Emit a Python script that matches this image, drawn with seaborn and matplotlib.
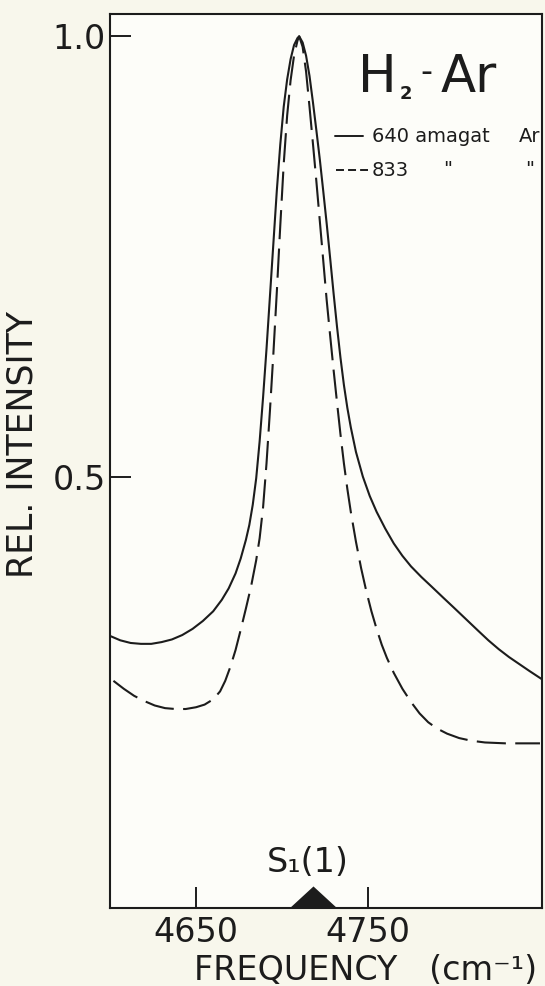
import matplotlib
matplotlib.use("Agg")
import matplotlib.pyplot as plt
import seaborn as sns
from matplotlib.lines import Line2D

# 640 amagat Ar (solid)
freq_640 = [4600, 4606, 4612, 4618, 4624, 4630, 4636, 4642, 4648, 4654,
            4660, 4665, 4669, 4673, 4676, 4679, 4681, 4683, 4685, 4687,
            4689, 4691, 4693, 4695, 4697, 4699, 4701, 4703, 4705, 4707,
            4709, 4710, 4712, 4714, 4716, 4718, 4720, 4722, 4724, 4726,
            4728, 4730, 4732, 4734, 4736, 4738, 4740, 4743, 4747, 4751,
            4755, 4760, 4765, 4770, 4775, 4781, 4787, 4794, 4800, 4807,
            4814, 4820, 4826, 4832, 4838, 4844, 4851]
int_640 = [0.319, 0.314, 0.311, 0.310, 0.310, 0.312, 0.315, 0.320, 0.327, 0.336,
           0.347, 0.360, 0.373, 0.390, 0.407, 0.428, 0.445, 0.468, 0.498, 0.540,
           0.590, 0.645, 0.705, 0.765, 0.825, 0.877, 0.920, 0.951, 0.974, 0.990,
           0.998, 1.000, 0.993, 0.978, 0.955, 0.925, 0.893, 0.860, 0.824, 0.787,
           0.748, 0.708, 0.670, 0.635, 0.604, 0.578, 0.556, 0.528, 0.500, 0.478,
           0.460, 0.441, 0.424, 0.410, 0.398, 0.386, 0.375, 0.362, 0.351, 0.338,
           0.325, 0.314, 0.304, 0.295, 0.287, 0.279, 0.270]

# 833 amagat Ar (dashed)
freq_833 = [4602, 4608, 4614, 4620, 4626, 4632, 4638, 4644, 4650, 4655,
            4660, 4664, 4667, 4670, 4673, 4676, 4679, 4682, 4685, 4687,
            4689, 4691, 4693, 4695, 4697, 4699, 4701, 4703, 4705, 4707,
            4709, 4710, 4712, 4714, 4716, 4718, 4720, 4722, 4724, 4726,
            4728, 4730, 4732, 4734, 4736, 4738, 4740, 4743, 4746, 4749,
            4752, 4755, 4758, 4761, 4765, 4770, 4775, 4780, 4785, 4790,
            4796, 4803, 4810, 4818, 4830, 4850]
int_833 = [0.268, 0.259, 0.251, 0.245, 0.240, 0.237, 0.236, 0.236, 0.238, 0.241,
           0.247, 0.256, 0.268, 0.284, 0.303, 0.326, 0.350, 0.375, 0.405, 0.430,
           0.465, 0.515, 0.575, 0.640, 0.710, 0.785, 0.855, 0.910, 0.950, 0.978,
           0.995, 1.000, 0.988, 0.960, 0.920, 0.878, 0.835, 0.790, 0.745, 0.700,
           0.660, 0.621, 0.584, 0.548, 0.515, 0.486, 0.460, 0.426, 0.396, 0.370,
           0.347, 0.327, 0.309, 0.294, 0.277, 0.259, 0.244, 0.231, 0.221, 0.214,
           0.208, 0.203, 0.200, 0.198, 0.197, 0.197]

s1_freq = 4718
x_ticks = [4650, 4750]
y_ticks = [0.5, 1.0]
y_tick_labels = ["0.5", "1.0"]

W, H = 545, 986
ink = "#1c1c1c"

sns.set_style("ticks")
plt.rcParams["font.family"] = ["DejaVu Sans"]


def fx(px):
    return px / W


def fy(py):
    return 1 - py / H


fig = plt.figure(figsize=(W / 100, H / 100), dpi=100, facecolor="#f8f7ec")
ax = fig.add_axes([fx(110), fy(908), (541.7 - 110) / W, (908 - 14.3) / H])
ax.set_facecolor("#fdfdf9")

sns.lineplot(x=freq_640, y=int_640, ax=ax, color=ink, lw=1.5,
             estimator=None, sort=False)
sns.lineplot(x=freq_833, y=int_833, ax=ax, color=ink, lw=1.5,
             estimator=None, sort=False, linestyle=(0, (14, 4.5)))

# S1(1) position marker (flat triangle sitting on the axis)
tri = [(-1, 0), (1, 0), (0, 0.92), (-1, 0)]
ax.plot([s1_freq], [0.01], marker=tri, ms=34.5, mew=0, color=ink,
        clip_on=False, zorder=5)

ax.set_xlim(4600, 4851)
ax.set_ylim(0.01, 1.025)
ax.set_xticks(x_ticks)
ax.set_yticks(y_ticks, y_tick_labels)
ax.tick_params(direction="in", length=15, width=1.4, labelsize=24,
               colors=ink)
ax.tick_params(axis="x", pad=6)
ax.tick_params(axis="y", pad=3)
for s in ax.spines.values():
    s.set_linewidth(1.5)
    s.set_color(ink)

ax.set_ylabel("REL. INTENSITY", fontsize=25, color=ink, va="center")
ax.yaxis.set_label_coords((23 - 110) / 431.7, (908 - 445) / 893.7)
ax.set_xlabel("FREQUENCY   (cm\u207b\u00b9)", fontsize=24, color=ink, va="center")
ax.xaxis.set_label_coords((366 - 110) / 431.7, (908 - 970) / 893.7)

# title H2-Ar
fig.text(fx(358), fy(92.5), "H", fontsize=37, color=ink, va="baseline")
fig.text(fx(400), fy(99), "2", fontsize=13, fontweight="bold", color=ink, va="baseline")
fig.text(fx(420), fy(82), "-", fontsize=24, color=ink, va="baseline")
fig.text(fx(441), fy(92.5), "Ar", fontsize=37, color=ink, va="baseline")

# legend lettering
fig.add_artist(Line2D([fx(335), fx(363)], [fy(136), fy(136)], lw=1.4, color=ink,
                      transform=fig.transFigure))
fig.add_artist(Line2D([fx(336), fx(368)], [fy(170), fy(170)], lw=1.4, color=ink,
                      dashes=(4.1, 2.1), transform=fig.transFigure))
fig.text(fx(372), fy(136), "640 amagat", fontsize=14, color=ink, va="center")
fig.text(fx(540), fy(136), "Ar", fontsize=14, color=ink, va="center", ha="right")
fig.text(fx(372), fy(170), "833", fontsize=14, color=ink, va="center")
fig.text(fx(448), fy(170), '"', fontsize=14, color=ink, va="center", ha="center")
fig.text(fx(530), fy(170), '"', fontsize=14, color=ink, va="center", ha="center")

# line label
fig.text(fx(308), fy(863), "S\u2081(1)", fontsize=24, color=ink,
         va="center", ha="center")

fig.savefig("out.png", dpi=100, facecolor=fig.get_facecolor())
